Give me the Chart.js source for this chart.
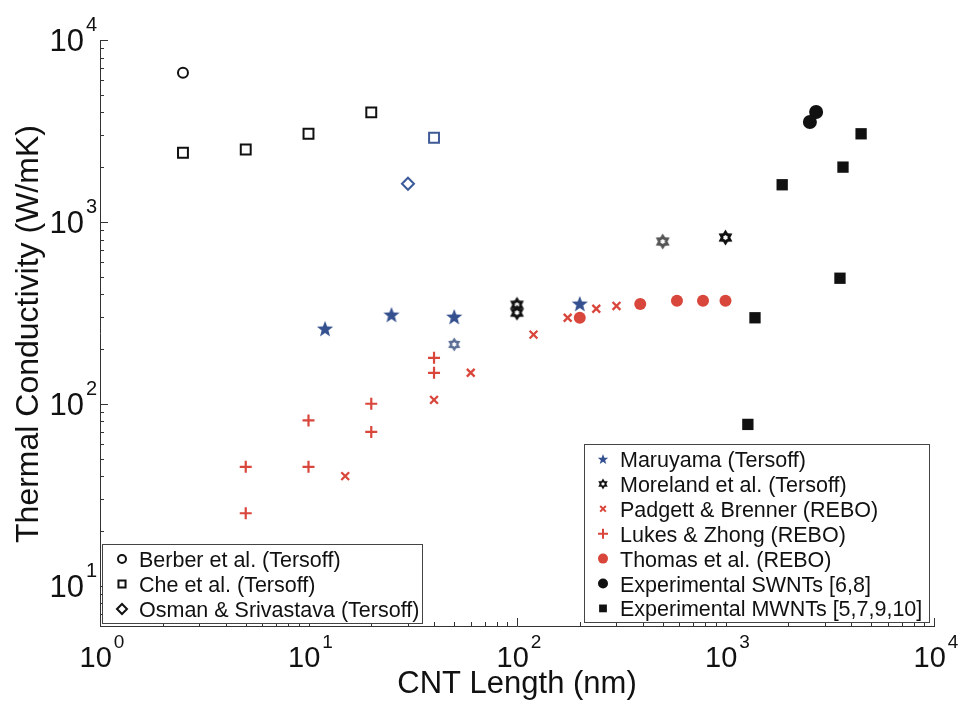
<!DOCTYPE html>
<html lang="en">
<head>
<meta charset="utf-8">
<title>Thermal conductivity vs CNT length</title>
<script src="https://cdn.jsdelivr.net/npm/chart.js@4.4.0/dist/chart.umd.min.js"></script>
<style>
  html, body { margin: 0; padding: 0; background: #fff; }
  #wrap { width: 960px; height: 701px; position: relative; }
</style>
</head>
<body>
<div id="wrap"><canvas id="chart"></canvas></div>
<script>
// axis text
const xTitle = 'CNT Length (nm)';
const yTitle = 'Thermal Conductivity (W/mK)';
const xTickExps = [0, 1, 2, 3, 4];
const yTickExps = [1, 2, 3, 4];

// data (nm, W/mK)
const berberX = [2.5];
const berberY = [6600];
const cheX = [2.5, 5, 10, 20, 40];
const cheY = [2400, 2500, 3050, 4000, 2900];
const osmanX = [30];
const osmanY = [1620];
const maruyamaX = [12, 25, 50, 200];
const maruyamaY = [258, 308, 300, 354];
const morelandX = [50, 100, 100, 500, 1000];
const morelandY = [212, 350, 317, 780, 820];
const padgettX = [15, 40, 60, 120, 175, 240, 300];
const padgettY = [40, 105, 148, 240, 297, 333, 345];
const lukesX = [5, 5, 10, 10, 20, 20, 40, 40];
const lukesY = [45, 25, 81, 45, 100, 70, 179, 148];
const thomasX = [200, 390, 585, 780, 1000];
const thomasY = [297, 354, 368, 368, 368];
const swntX = [2720, 2540];
const swntY = [4020, 3540];
const mwntX = [4470, 3660, 1870, 3540, 1385, 1280];
const mwntY = [3050, 2000, 1600, 490, 297, 77];

const FONT = '"Liberation Sans", Arial, Helvetica, sans-serif';
const RED = '#d9463b';
const BLUE = '#34508f';

function pts(xs, ys) {
  return xs.map((x, i) => ({ x, y: ys[i] }));
}

function starPath(g, cx, cy, n, R, r) {
  g.beginPath();
  for (let i = 0; i < n * 2; i++) {
    const a = -Math.PI / 2 + i * Math.PI / n;
    const rr = i % 2 ? r : R;
    g.lineTo(cx + rr * Math.cos(a), cy + rr * Math.sin(a));
  }
  g.closePath();
}

// filled 5-point star
function makeStar(color, size) {
  const c = document.createElement('canvas');
  c.width = c.height = size;
  const g = c.getContext('2d');
  g.fillStyle = color;
  starPath(g, size / 2, size / 2 + 0.5, 5, size / 2 - 0.5, (size / 2 - 0.5) * 0.42);
  g.fill();
  return c;
}

// heavy hexagram with a small white hole in the middle
function makeHex(color, size, hole) {
  const c = document.createElement('canvas');
  c.width = c.height = size;
  const g = c.getContext('2d');
  const R = size / 2 - 0.5;
  g.fillStyle = color;
  starPath(g, size / 2, size / 2, 6, R, R * 0.6);
  g.fill();
  g.fillStyle = '#fff';
  starPath(g, size / 2, size / 2, 6, hole, hole * 0.75);
  g.fill();
  return c;
}

const starImg = makeStar(BLUE, 18);
const starLeg = makeStar(BLUE, 12);
const hexBlack = makeHex('#111', 17, 2.6);
const hexGrey = makeHex('#555', 17, 2.6);
const hexBlue = makeHex('#5a6d95', 15, 2.4);
const hexLeg = makeHex('#111', 12, 1.8);

const datasets = [
  { label: 'Berber et al. (Tersoff)', data: pts(berberX, berberY), pointStyle: 'circle', pointRadius: 5,
    pointBorderWidth: 2, pointBorderColor: '#111', pointBackgroundColor: 'rgba(0,0,0,0)', leg: { r: 4, w: 2 } },
  { label: 'Che et al. (Tersoff)', data: pts(cheX, cheY), pointStyle: 'rect', pointRadius: 7,
    pointBorderWidth: 2, pointBorderColor: ['#111', '#111', '#111', '#111', '#3f5a96'],
    pointBackgroundColor: 'rgba(0,0,0,0)', leg: { r: 5, w: 2 } },
  { label: 'Osman & Srivastava (Tersoff)', data: pts(osmanX, osmanY), pointStyle: 'rectRot', pointRadius: 6,
    pointBorderWidth: 2, pointBorderColor: '#3b5a9a', pointBackgroundColor: 'rgba(0,0,0,0)', leg: { r: 5, w: 2, c: '#111' } },
  { label: 'Maruyama (Tersoff)', data: pts(maruyamaX, maruyamaY), pointStyle: starImg, leg: { img: starLeg } },
  { label: 'Moreland et al. (Tersoff)', data: pts(morelandX, morelandY),
    pointStyle: [hexBlue, hexBlack, hexBlack, hexGrey, hexBlack], leg: { img: hexLeg } },
  { label: 'Padgett & Brenner (REBO)', data: pts(padgettX, padgettY), pointStyle: 'crossRot', pointRadius: 5.5,
    pointBorderWidth: 2.3, pointBorderColor: RED, leg: { r: 4, w: 2 } },
  { label: 'Lukes & Zhong (REBO)', data: pts(lukesX, lukesY), pointStyle: 'cross', pointRadius: 6,
    pointBorderWidth: 2.2, pointBorderColor: RED, leg: { r: 5, w: 2 } },
  { label: 'Thomas et al. (REBO)', data: pts(thomasX, thomasY), pointStyle: 'circle', pointRadius: 6,
    pointBorderWidth: 0, pointBackgroundColor: RED, leg: { r: 5, w: 0 } },
  { label: 'Experimental SWNTs [6,8]', data: pts(swntX, swntY), pointStyle: 'circle', pointRadius: 7,
    pointBorderWidth: 0, pointBackgroundColor: '#111', leg: { r: 5, w: 0 } },
  { label: 'Experimental MWNTs [5,7,9,10]', data: pts(mwntX, mwntY), pointStyle: 'rect', pointRadius: 8,
    pointBorderWidth: 0, pointBackgroundColor: '#111', leg: { r: 5.5, w: 0 } }
];

const legendBoxes = [
  { x: 102, y: 544, w: 320, h: 79, from: 0, to: 3, mx: 122, tx: 139, y0: 559, step: 25 },
  { x: 584, y: 444, w: 345, h: 178, from: 3, to: 10, mx: 603, tx: 620, y0: 459, step: 24.9 }
];

function powLabel(ctx, exp, x, y, size, supSize, align) {
  ctx.font = size + 'px ' + FONT;
  const bw = ctx.measureText('10').width;
  ctx.font = supSize + 'px ' + FONT;
  const sw = ctx.measureText(String(exp)).width;
  const gap = 2;
  const left = align === 'right' ? x - bw - sw - gap : x - (bw + sw + gap) / 2;
  ctx.textAlign = 'left';
  ctx.textBaseline = 'alphabetic';
  ctx.font = size + 'px ' + FONT;
  ctx.fillText('10', left, y);
  ctx.font = supSize + 'px ' + FONT;
  ctx.fillText(String(exp), left + bw + gap, y - size * 0.64);
}

const decor = {
  id: 'decor',
  afterDraw(chart) {
    const { ctx, chartArea: a, scales: { x, y } } = chart;
    ctx.save();
    // inward ticks
    ctx.strokeStyle = '#333';
    ctx.lineWidth = 1;
    ctx.beginPath();
    for (let e = 0; e < 4; e++) {
      for (let m = 1; m <= 10; m++) {
        const px = Math.round(x.getPixelForValue(m * Math.pow(10, e))) + 0.5;
        const len = (m === 1 || m === 10) ? 8 : 4;
        ctx.moveTo(px, a.bottom);
        ctx.lineTo(px, a.bottom - len);
      }
    }
    for (let e = 0; e < 4; e++) {
      for (let m = 1; m <= 10; m++) {
        const v = m * Math.pow(10, e);
        if (v < y.min || v > y.max) continue;
        const py = Math.round(y.getPixelForValue(v)) + 0.5;
        const len = (m === 1 || m === 10) ? 8 : 4;
        ctx.moveTo(a.left, py);
        ctx.lineTo(a.left + len, py);
      }
    }
    ctx.stroke();

    // tick labels
    ctx.fillStyle = '#111';
    xTickExps.forEach(e => {
      powLabel(ctx, e, x.getPixelForValue(Math.pow(10, e)) + 2, a.bottom + 41, 29, 19, 'center');
    });
    yTickExps.forEach(e => {
      powLabel(ctx, e, a.left - 3, y.getPixelForValue(Math.pow(10, e)) + 11, 31, 20, 'right');
    });

    // axis titles
    ctx.textAlign = 'center';
    ctx.textBaseline = 'alphabetic';
    ctx.font = '31px ' + FONT;
    ctx.fillText(xTitle, (a.left + a.right) / 2, 693);
    ctx.save();
    ctx.translate(38, 334);
    ctx.rotate(-Math.PI / 2);
    ctx.font = '32px ' + FONT;
    ctx.fillText(yTitle, 0, 0);
    ctx.restore();

    // two legend boxes
    legendBoxes.forEach(b => {
      ctx.fillStyle = '#fff';
      ctx.fillRect(b.x, b.y, b.w, b.h);
      ctx.strokeStyle = '#444';
      ctx.lineWidth = 1;
      ctx.strokeRect(b.x + 0.5, b.y + 0.5, b.w, b.h);
      for (let i = b.from; i < b.to; i++) {
        const ds = chart.data.datasets[i];
        const cy = b.y0 + (i - b.from) * b.step;
        const lg = ds.leg;
        if (lg.img) {
          ctx.drawImage(lg.img, b.mx - lg.img.width / 2, cy - lg.img.height / 2);
        } else {
          const bc = Array.isArray(ds.pointBorderColor) ? ds.pointBorderColor[0] : ds.pointBorderColor;
          ctx.strokeStyle = lg.c || bc || '#111';
          ctx.fillStyle = lg.w ? 'rgba(0,0,0,0)' : ds.pointBackgroundColor;
          ctx.lineWidth = lg.w;
          Chart.helpers.drawPoint(ctx, { pointStyle: ds.pointStyle, radius: lg.r, borderWidth: lg.w, rotation: 0 }, b.mx, cy);
        }
        ctx.fillStyle = '#111';
        ctx.font = '21.5px ' + FONT;
        ctx.textAlign = 'left';
        ctx.textBaseline = 'alphabetic';
        ctx.fillText(ds.label, b.tx, cy + 8);
      }
    });
    ctx.restore();
  }
};

new Chart(document.getElementById('chart'), {
  type: 'scatter',
  data: { datasets },
  options: {
    responsive: true,
    maintainAspectRatio: false,
    animation: false,
    events: [],
    layout: { padding: { left: 100, top: 40, right: 26, bottom: 75 } },
    plugins: { legend: { display: false }, tooltip: { enabled: false } },
    scales: {
      x: {
        type: 'logarithmic', min: 1, max: 10000,
        ticks: { display: false },
        grid: { display: false, drawTicks: false },
        border: { display: true, color: '#333', width: 1 }
      },
      y: {
        type: 'logarithmic', min: 6, max: 10000,
        ticks: { display: false },
        grid: { display: false, drawTicks: false },
        border: { display: true, color: '#333', width: 1 }
      }
    }
  },
  plugins: [decor]
});
</script>
</body>
</html>
